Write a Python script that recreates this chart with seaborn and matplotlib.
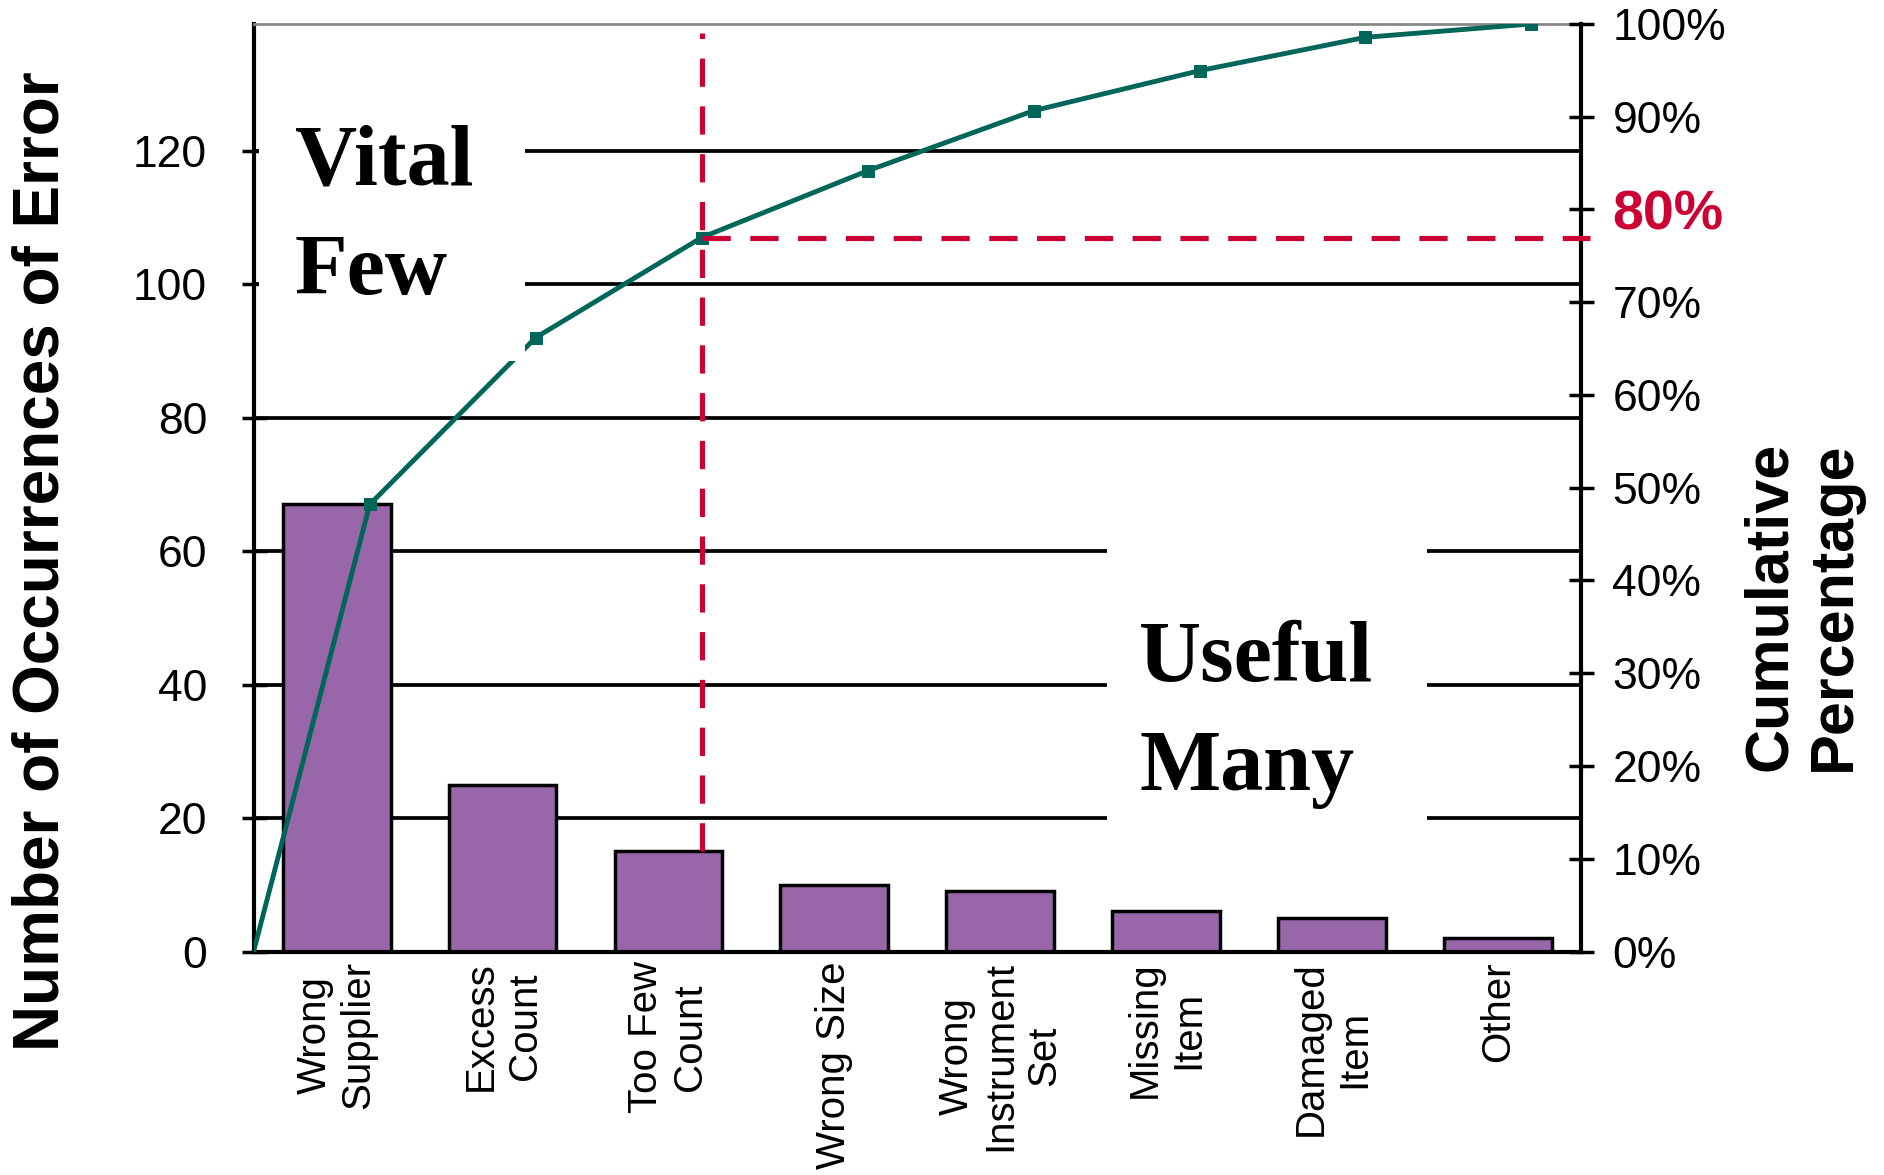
import numpy as np
import pandas as pd
import seaborn as sns
import matplotlib.pyplot as plt
from matplotlib.patches import Rectangle

categorias = ["Wrong\nSupplier", "Excess\nCount", "Too Few\nCount", "Wrong Size",
              "Wrong\nInstrument\nSet", "Missing\nItem", "Damaged\nItem", "Other"]
ocurrencias = [67, 25, 15, 10, 9, 6, 5, 2]
ticks_izq = [0, 20, 40, 60, 80, 100, 120]
ticks_der = [0, 10, 20, 30, 40, 50, 60, 70, 80, 90, 100]

total = sum(ocurrencias)
acumulado = np.cumsum(ocurrencias) / total * 100

morado = "#9966AA"
verde = "#00665A"
rojo = "#CC0033"

sns.set_style("white")
plt.rcParams['font.family'] = ['Liberation Sans', 'DejaVu Sans']
plt.rcParams['text.color'] = 'black'
plt.rcParams['axes.labelcolor'] = 'black'
plt.rcParams['xtick.color'] = 'black'
plt.rcParams['ytick.color'] = 'black'

fig = plt.figure(figsize=(18.84, 11.75), dpi=100)
ax = fig.add_axes([0.1346, 0.1902, 0.7047, 0.7894])

df = pd.DataFrame({"categoria": categorias, "ocurrencias": ocurrencias})
sns.barplot(data=df, x="categoria", y="ocurrencias", color=morado, saturation=1,
            edgecolor="black", linewidth=2.5, width=0.65, ax=ax, zorder=2)

ax.set_xlim(-0.5, len(categorias) - 0.5)
ax.set_ylim(0, total)
ax.set_yticks(ticks_izq)
ax.set_yticklabels([str(t) for t in ticks_izq])
ax.yaxis.grid(True, color="black", lw=2.7)
ax.set_axisbelow(True)
ax.tick_params(axis="y", direction="inout", length=18, width=2.5, pad=24.5,
               labelsize=32, colors="black")
ax.tick_params(axis="x", which="major", length=0, pad=7, labelsize=29, labelrotation=90,
               colors="black")
ax.set_xticks(np.arange(0.5, len(categorias) - 1), minor=True)
ax.tick_params(axis="x", which="minor", direction="inout", length=18, width=2.5)
for lbl in ax.get_xticklabels():
    lbl.set_multialignment("center")
ax.set_xlabel("")
ax.set_ylabel("Number of Occurrences of Error", fontsize=46, fontweight="bold", color="black")
ax.yaxis.set_label_coords(-0.137, 0.421)

for lado in ["left", "right", "bottom"]:
    ax.spines[lado].set_color("black")
    ax.spines[lado].set_linewidth(3)
ax.spines["top"].set_color("#888888")
ax.spines["top"].set_linewidth(2)

# eje secundario con porcentaje acumulado
ax2 = ax.twinx()
x_linea = np.concatenate([[-0.5], np.arange(len(categorias)) + 0.2])
y_linea = np.concatenate([[0], acumulado])
sns.lineplot(x=x_linea, y=y_linea, ax=ax2, color=verde, lw=3.5, marker="s",
             markersize=9, markeredgecolor=verde, markevery=list(range(1, len(x_linea))),
             zorder=3)
ax2.set_ylim(0, 100)
ax2.set_yticks(ticks_der)
ax2.set_yticklabels([f"{t}%" for t in ticks_der])
ax2.tick_params(axis="y", direction="inout", length=18, width=2.5, pad=13.5,
                labelsize=32, colors="black")
ax2.set_ylabel("Cumulative\nPercentage", fontsize=44, fontweight="bold", linespacing=1.15,
               color="black")
ax2.yaxis.set_label_coords(1.121, 0.372)
for s in ax2.spines.values():
    s.set_visible(False)

etiqueta80 = ax2.get_yticklabels()[ticks_der.index(80)]
etiqueta80.set_color(rojo)
etiqueta80.set_fontweight("bold")
etiqueta80.set_fontsize(40)

# lineas del 80% (punto de corte en la tercera categoria)
x_corte = x_linea[3]
y_corte = acumulado[2]
ax2.plot([x_corte, x_corte], [ocurrencias[2] / total * 100, 99], color=rojo, lw=3.7,
         dashes=(5.5, 3.8), zorder=4)
ax2.plot([x_corte, len(categorias) - 0.45], [y_corte, y_corte], color=rojo, lw=3.7,
         dashes=(5.5, 3.8), zorder=4, clip_on=False)

# cajas blancas detras de los textos
ax2.add_patch(Rectangle((0.004, 0.637), 0.2005, 0.313, transform=ax2.transAxes,
                        facecolor="white", edgecolor="none", zorder=5))
ax2.add_patch(Rectangle((0.643, 0.119), 0.241, 0.363, transform=ax2.transAxes,
                        facecolor="white", edgecolor="none", zorder=5))
ax2.text(0.031, 0.79, "Vital\nFew", transform=ax2.transAxes, ha="left", va="center",
         fontsize=62, fontweight="bold", family="Liberation Serif", linespacing=1.5,
         color="black", zorder=6)
ax2.text(0.667, 0.255, "Useful\nMany", transform=ax2.transAxes, ha="left", va="center",
         fontsize=62, fontweight="bold", family="Liberation Serif", linespacing=1.5,
         color="black", zorder=6)

plt.savefig("out.png", dpi=100)
